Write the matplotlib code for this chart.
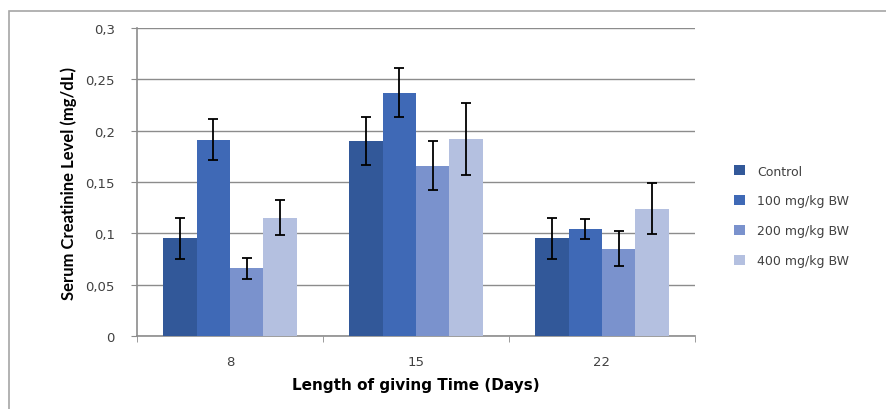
import matplotlib.pyplot as plt
import matplotlib.patches as mpatches
import numpy as np

# data
days = ['8', '15', '22']
groups = ['Control', '100 mg/kg BW', '200 mg/kg BW', '400 mg/kg BW']
values = [
    [0.095, 0.190, 0.095],   # Control
    [0.191, 0.237, 0.104],   # 100 mg/kg BW
    [0.066, 0.166, 0.085],   # 200 mg/kg BW
    [0.115, 0.192, 0.124],   # 400 mg/kg BW
]
errors = [
    [0.020, 0.023, 0.020],
    [0.020, 0.024, 0.010],
    [0.010, 0.024, 0.017],
    [0.017, 0.035, 0.025],
]
y_ticks = [0, 0.05, 0.1, 0.15, 0.2, 0.25, 0.3]
y_tick_labels = ['0', '0,05', '0,1', '0,15', '0,2', '0,25', '0,3']

colors = ['#325899', '#3f69b6', '#7a92cd', '#b4c0e0']
grey = '#8c8c8c'

fig = plt.figure(figsize=(8.86, 4.10), dpi=100)
# outer chart frame (clipped at right/bottom like the source)
fig.patches.append(mpatches.Rectangle((9 / 886, -0.05), 1.1, (410 - 12) / 410 + 0.05,
                                      transform=fig.transFigure, fill=False,
                                      edgecolor='#a6a6a6', linewidth=1.2))

ax = fig.add_axes([137 / 886, 73 / 410, 558 / 886, 308 / 410])

x = np.arange(len(days))
w = 0.18
for i, (g, v, e, c) in enumerate(zip(groups, values, errors, colors)):
    ax.bar(x + (i - 1.5) * w, v, width=w, color=c, label=g, zorder=3,
           yerr=e, error_kw=dict(ecolor='black', elinewidth=1.3, capsize=3.5,
                                 capthick=1.3, zorder=4))

ax.set_xlim(-0.5, 2.5)
ax.set_ylim(0, 0.3)
ax.set_yticks(y_ticks)
ax.set_yticklabels(y_tick_labels, fontsize=9.5, color='#404040', family='DejaVu Sans')
ax.set_xticks(x)
ax.set_xticklabels(days, fontsize=9.5, color='#404040', family='DejaVu Sans')
ax.set_xticks([-0.5, 0.5, 1.5, 2.5], minor=True)
ax.tick_params(axis='x', which='major', length=0, pad=14)
ax.tick_params(axis='x', which='minor', length=4, color=grey, direction='out')
ax.tick_params(axis='y', length=4, color=grey, pad=12)

ax.grid(axis='y', color=grey, linewidth=1, zorder=0)
ax.set_axisbelow(True)
for s in ['top', 'right']:
    ax.spines[s].set_visible(False)
for s in ['left', 'bottom']:
    ax.spines[s].set_color(grey)
    ax.spines[s].set_linewidth(1.2)

ax.set_ylabel('Serum Creatinine Level (mg/dL)', fontsize=12, fontweight='bold',
              family='Lato', labelpad=6)
ax.set_xlabel('Length of giving Time (Days)', fontsize=11, fontweight='bold',
              family='DejaVu Sans', labelpad=6)

ax.legend(loc='center left', bbox_to_anchor=(1.05, 0.39), frameon=False,
          prop={'family': 'DejaVu Sans', 'size': 9}, handlelength=0.85,
          handleheight=0.85, labelspacing=1.35, handletextpad=1.0,
          labelcolor='#404040')

fig.savefig('out.png', dpi=100)
